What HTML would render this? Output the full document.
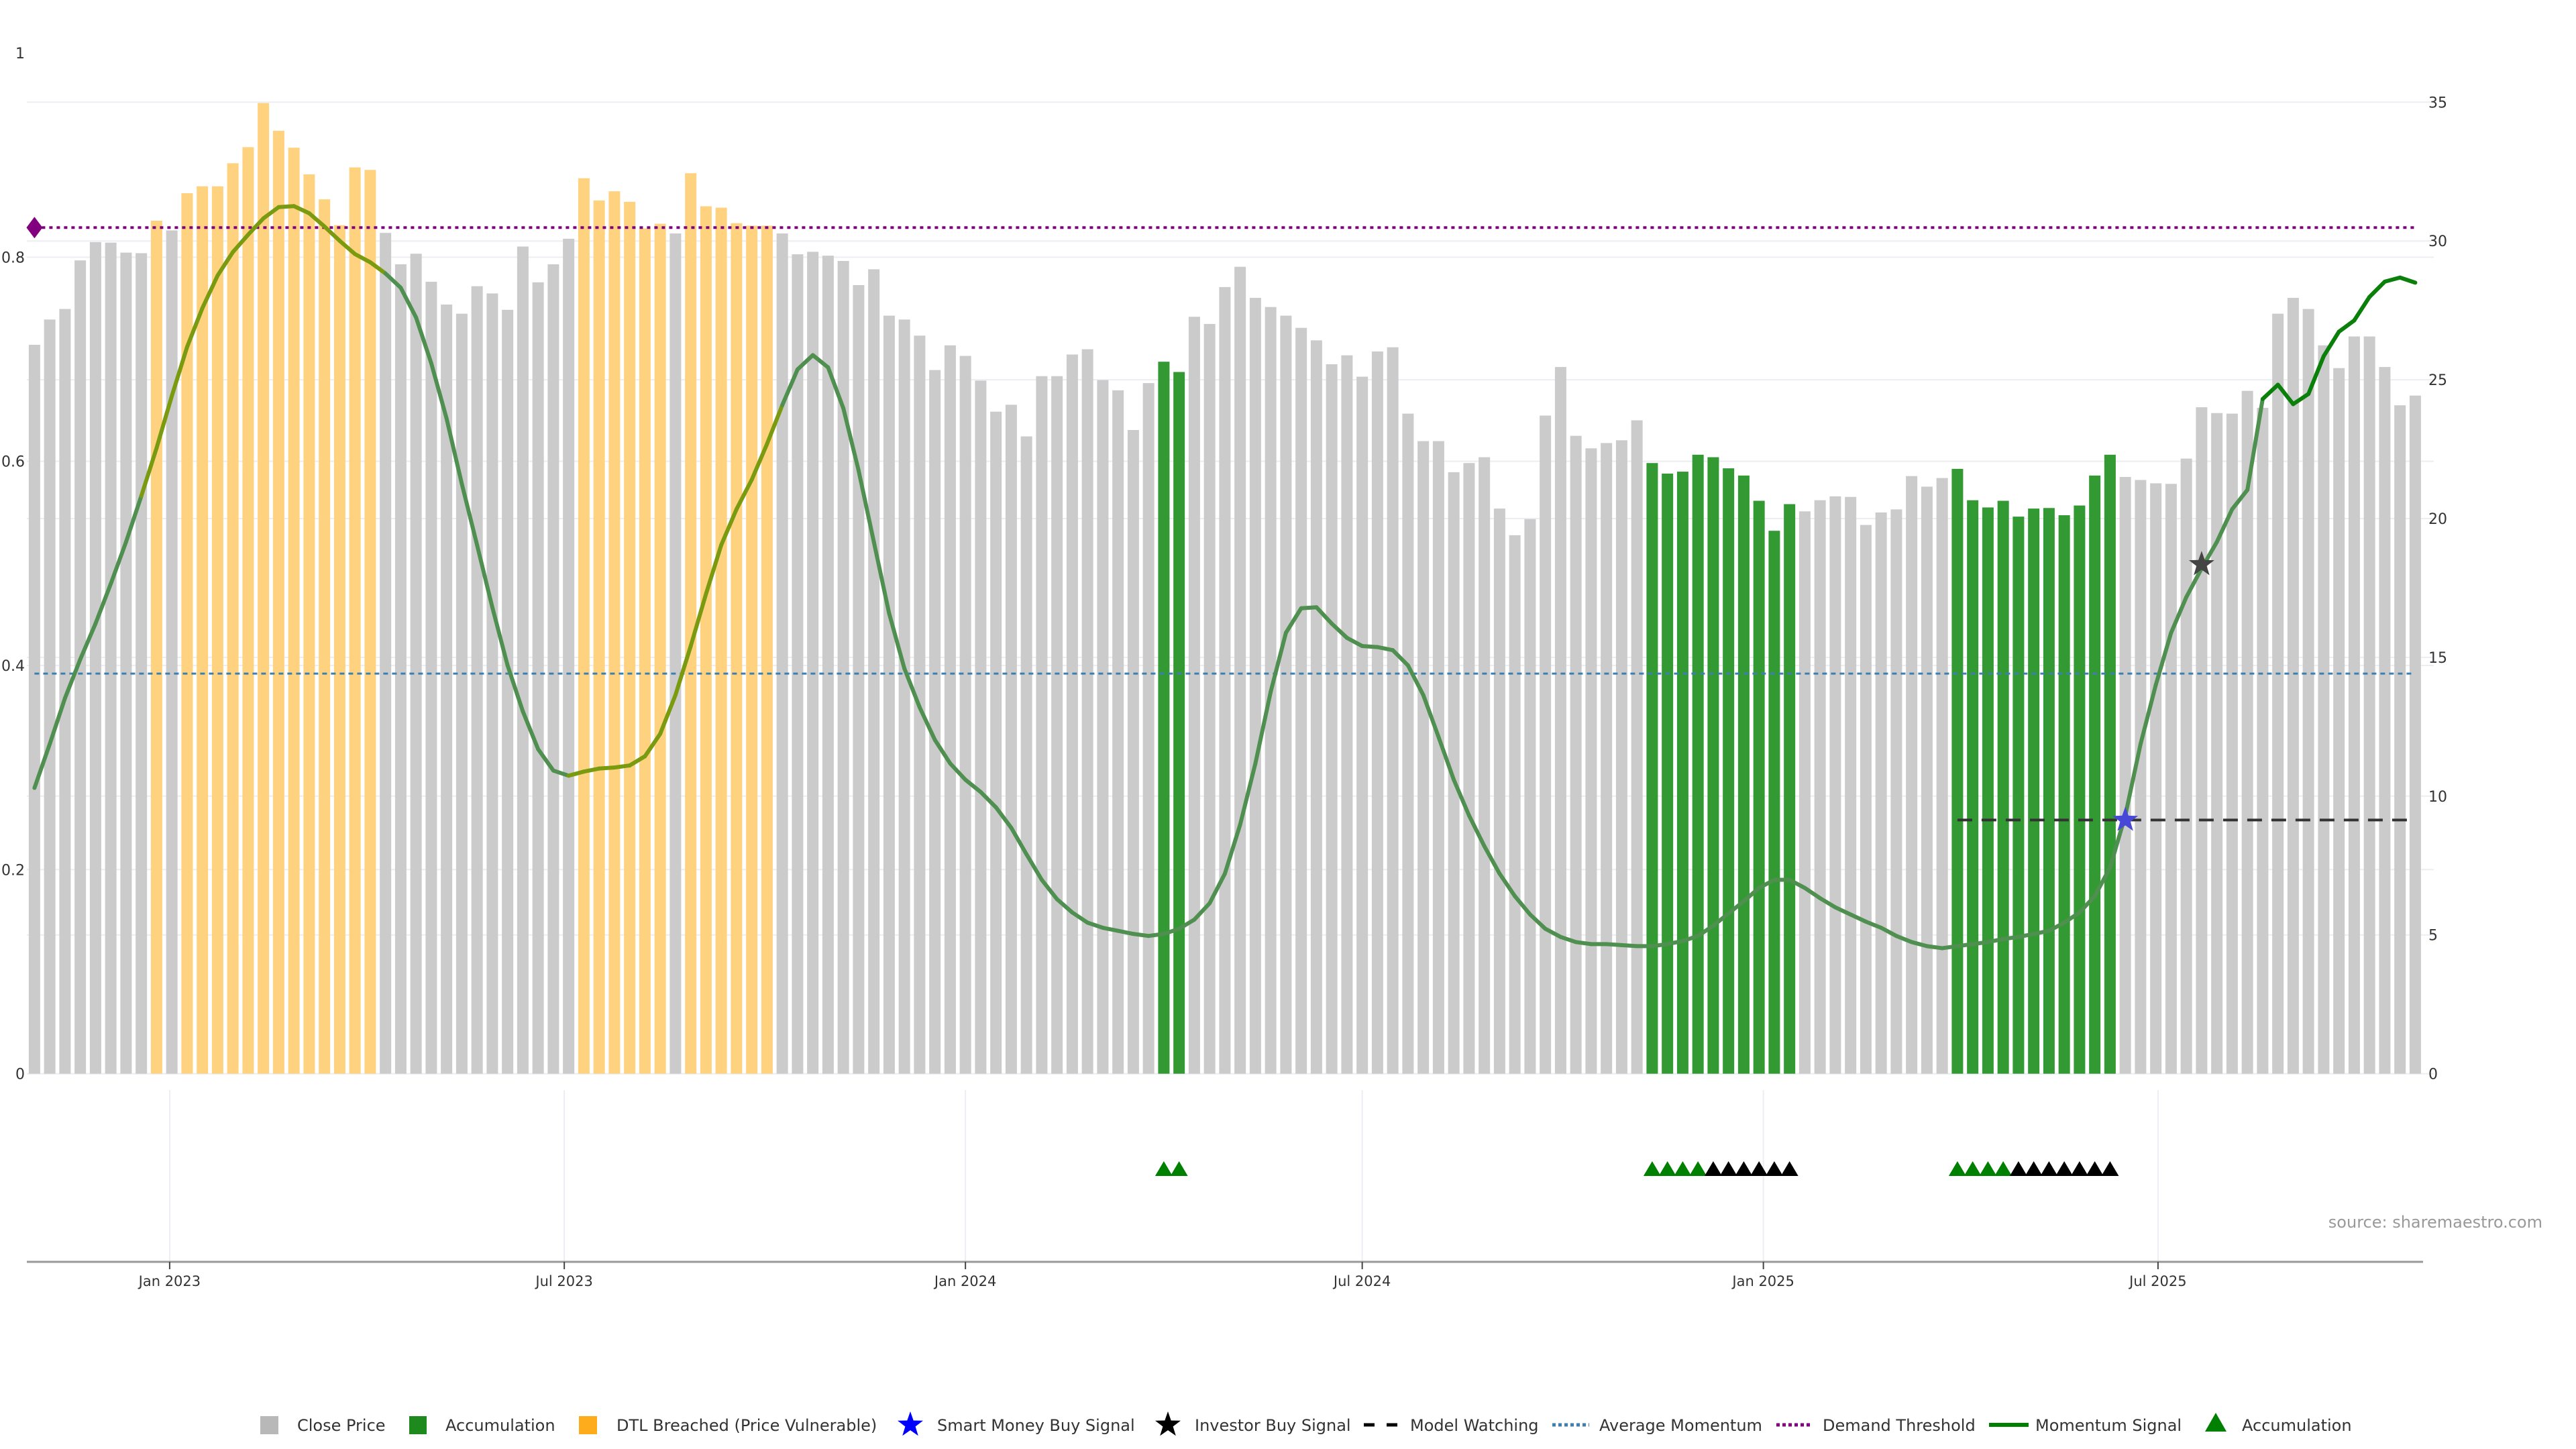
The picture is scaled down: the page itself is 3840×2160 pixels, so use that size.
<!DOCTYPE html>
<html><head><meta charset="utf-8"><style>
html,body{margin:0;padding:0;background:#fff;}
svg{display:block;font-family:"DejaVu Sans","Liberation Sans",sans-serif;}
</style></head><body>
<svg id="chart" xmlns="http://www.w3.org/2000/svg" width="3840" height="2160" viewBox="0 0 3840 2160">
<rect width="3840" height="2160" fill="#fff"/>
<g id="grid"></g>
<g id="bars"></g>
<g id="lines"></g>
<g id="marks"></g>
<g id="axes"></g>
<text x="3790" y="1830" text-anchor="end" font-size="24" fill="#999">source: sharemaestro.com</text>
<g id="legend"></g>
</svg>
<script>
const startDate = "2022-10-31";
const closePrice = [26.26,27.17,27.55,29.3,29.96,29.94,29.58,29.56,30.73,30.38,31.72,31.97,31.97,32.8,33.38,34.97,33.97,33.36,32.4,31.5,30.57,32.65,32.56,30.29,29.16,29.54,28.53,27.71,27.38,28.37,28.11,27.52,29.8,28.51,29.16,30.08,32.26,31.46,31.79,31.41,30.45,30.62,30.27,32.44,31.25,31.2,30.64,30.55,30.55,30.27,29.52,29.61,29.47,29.28,28.41,28.98,27.31,27.17,26.59,25.35,26.24,25.86,24.97,23.85,24.1,22.96,25.13,25.13,25.91,26.1,24.99,24.62,23.19,24.88,25.65,25.28,27.27,27.01,28.34,29.07,27.95,27.62,27.31,26.87,26.42,25.56,25.88,25.11,26.02,26.17,23.78,22.79,22.79,21.67,22.0,22.21,20.36,19.4,19.98,23.71,25.46,22.98,22.53,22.72,22.82,23.54,22.0,21.62,21.69,22.3,22.21,21.81,21.55,20.64,19.56,20.52,20.26,20.66,20.8,20.78,19.77,20.22,20.33,21.53,21.15,21.46,21.79,20.66,20.4,20.64,20.07,20.36,20.38,20.12,20.47,21.55,22.3,21.5,21.39,21.27,21.25,22.16,24.01,23.8,23.78,24.6,23.99,27.38,27.95,27.55,26.24,25.42,26.56,26.56,25.46,24.08,24.43];
const momentum = [0.280,0.323,0.368,0.406,0.441,0.480,0.521,0.566,0.613,0.664,0.712,0.750,0.782,0.805,0.822,0.838,0.849,0.850,0.843,0.830,0.816,0.803,0.795,0.784,0.770,0.741,0.696,0.642,0.578,0.518,0.457,0.400,0.355,0.318,0.297,0.292,0.296,0.299,0.300,0.302,0.311,0.333,0.371,0.419,0.470,0.518,0.553,0.582,0.617,0.655,0.690,0.704,0.692,0.652,0.591,0.521,0.451,0.397,0.359,0.327,0.304,0.288,0.276,0.261,0.241,0.215,0.190,0.171,0.158,0.148,0.143,0.140,0.137,0.135,0.137,0.142,0.151,0.167,0.196,0.244,0.304,0.374,0.432,0.456,0.457,0.441,0.427,0.419,0.418,0.415,0.400,0.371,0.330,0.288,0.253,0.223,0.196,0.174,0.156,0.142,0.134,0.129,0.127,0.127,0.126,0.125,0.125,0.127,0.130,0.135,0.145,0.157,0.169,0.182,0.190,0.190,0.182,0.172,0.163,0.156,0.149,0.143,0.135,0.129,0.125,0.123,0.125,0.127,0.129,0.132,0.134,0.137,0.140,0.148,0.158,0.174,0.202,0.253,0.323,0.381,0.432,0.467,0.495,0.521,0.553,0.572,0.661,0.675,0.656,0.666,0.703,0.727,0.738,0.761,0.776,0.780,0.775];
// bar state: 0 = close, 1 = accumulation, 2 = DTL breached
const barState = [0,0,0,0,0,0,0,0,2,0,2,2,2,2,2,2,2,2,2,2,2,2,2,0,0,0,0,0,0,0,0,0,0,0,0,0,2,2,2,2,2,2,0,2,2,2,2,2,2,0,0,0,0,0,0,0,0,0,0,0,0,0,0,0,0,0,0,0,0,0,0,0,0,0,1,1,0,0,0,0,0,0,0,0,0,0,0,0,0,0,0,0,0,0,0,0,0,0,0,0,0,0,0,0,0,0,1,1,1,1,1,1,1,1,1,1,0,0,0,0,0,0,0,0,0,0,1,1,1,1,1,1,1,1,1,1,1,0,0,0,0,0,0,0,0,0,0,0,0,0,0,0,0,0,0,0,0];
const triGreen = [75,76,107,108,109,110,127,128,129,130];
const triBlack = [111,112,113,114,115,116,131,132,133,134,135,136,137];
const demandThreshold = 0.829;
const avgMomentum = 0.392;
const modelWatching = 9.14;
const modelStart = 127;
const smartMoneyBar = 138;
const investorBar = 143;
const investorValue = 0.499;
const brightFrom = 147;
const leftTicks = [0,0.2,0.4,0.6,0.8,1];
const leftLabels = ["0","0.2","0.4","0.6","0.8","1"];
const rightTicks = [0,5,10,15,20,25,30,35];
const dateTicks = ["2023-01-01","2023-07-01","2024-01-01","2024-07-01","2025-01-01","2025-07-01"];
const dateLabels = ["Jan 2023","Jul 2023","Jan 2024","Jul 2024","Jan 2025","Jul 2025"];

const NS="http://www.w3.org/2000/svg";
const X0=51.4, PXDAY=3.25, YB=1600.6;
const day0=Date.parse(startDate);
const xDate=d=>X0+(Date.parse(d)-day0)/86400000*PXDAY;
const xBar=i=>X0+i*7*PXDAY;
const yR=v=>YB-v*(YB-152.3)/35;
const yL=v=>YB-v*(YB-79)/1;
function mk(tag,attrs,parent){const e=document.createElementNS(NS,tag);for(const k in attrs)e.setAttribute(k,attrs[k]);parent.appendChild(e);return e;}
const G=id=>document.getElementById(id);
const grid=G('grid'),bars=G('bars'),lines=G('lines'),marks=G('marks'),axes=G('axes'),legend=G('legend');

rightTicks.forEach(t=>{const e=mk('line',{x1:40,x2:3628,y1:yR(t),y2:yR(t),stroke:'#eceef4','stroke-width':2},grid);

});
leftTicks.slice(0,5).forEach(t=>{const e=mk('line',{x1:40,x2:3628,y1:yL(t),y2:yL(t),stroke:'#eceef4','stroke-width':2},grid);

});
dateTicks.forEach(d=>{const e=mk('line',{x1:xDate(d),x2:xDate(d),y1:1625,y2:1881,stroke:'#eceef4','stroke-width':2},grid);

});

const colors=['#cbcbcb','#339a33','#ffd280'];
closePrice.forEach((v,i)=>{const e=mk('rect',{x:xBar(i)-8.5,y:yR(v),width:17,height:YB-yR(v),fill:colors[barState[i]]},bars);

});

let e;
e=mk('line',{x1:xBar(0),x2:xBar(closePrice.length-1),y1:yL(demandThreshold),y2:yL(demandThreshold),stroke:'#800080','stroke-width':4,'stroke-dasharray':'5 6'},lines);


e=mk('line',{x1:xBar(0),x2:xBar(closePrice.length-1),y1:yL(avgMomentum),y2:yL(avgMomentum),stroke:'#3d7fae','stroke-width':3,'stroke-dasharray':'7 6'},lines);


e=mk('line',{x1:xBar(modelStart-1),x2:xBar(closePrice.length-1),y1:yR(modelWatching),y2:yR(modelWatching),stroke:'#333','stroke-width':4,'stroke-dasharray':'22 14'},lines);



for(let i=0;i<momentum.length-1;i++){
  let c='#4f8f4f';
  if(barState[i]===2||barState[i+1]===2) c='#7a9a10';
  if(i+1>=brightFrom) c='#0a800a';
  const s=mk('line',{x1:xBar(i),y1:yL(momentum[i]),x2:xBar(i+1),y2:yL(momentum[i+1]),stroke:c,'stroke-width':6,'stroke-linecap':'round'},lines);
  
  
}

{const cx=xBar(0),cy=yL(demandThreshold);
e=mk('polygon',{points:`${cx},${cy-16} ${cx+12},${cy} ${cx},${cy+16} ${cx-12},${cy}`,fill:'#800080'},marks);

}

function starPts(cx,cy,R){const r=R*0.4;let p=[];for(let k=0;k<10;k++){const a=-Math.PI/2+k*Math.PI/5;const rr=k%2?r:R;p.push((cx+rr*Math.cos(a)).toFixed(1)+','+(cy+rr*Math.sin(a)).toFixed(1));}return p.join(' ');}
e=mk('polygon',{points:starPts(xBar(smartMoneyBar-1),yR(modelWatching),20),fill:'#4848d8'},marks);


e=mk('polygon',{points:starPts(xBar(investorBar-1),yL(investorValue),20),fill:'#444'},marks);



function tri(cx,base,c,parent){return mk('polygon',{points:`${cx-13},${base} ${cx+13},${base} ${cx},${base-22}`,fill:c},parent);}
triGreen.forEach(b=>{const t=tri(xBar(b-1),1753,'#008000',marks);

});
triBlack.forEach(b=>{const t=tri(xBar(b-1),1753,'#000',marks);

});

e=mk('line',{x1:40,x2:3612,y1:1881,y2:1881,stroke:'#999','stroke-width':3},axes);


dateTicks.forEach((d,i)=>{const x=xDate(d);
const t=mk('line',{x1:x,x2:x,y1:1881,y2:1892,stroke:'#444','stroke-width':2},axes);


const l=mk('text',{x:x,y:1917,'text-anchor':'middle','font-size':21,fill:'#333'},axes);l.textContent=dateLabels[i];

});
leftTicks.forEach((t,i)=>{const l=mk('text',{x:37,y:yL(t)+8,'text-anchor':'end','font-size':22,fill:'#333'},axes);l.textContent=leftLabels[i];

});
rightTicks.forEach(t=>{const l=mk('text',{x:3620,y:yR(t)+8,'font-size':22,fill:'#333'},axes);l.textContent=String(t);

});

const LY=2133, LC=2124;
function ltext(x,s){const t=mk('text',{x:x,y:LY,'font-size':24,fill:'#333'},legend);t.textContent=s;

return t;}
e=mk('rect',{x:388,y:LC-13,width:27,height:27,fill:'#b8b8b8'},legend);


ltext(443,'Close Price');
e=mk('rect',{x:610,y:LC-13,width:26,height:27,fill:'#1e8a1e'},legend);


ltext(664,'Accumulation');
e=mk('rect',{x:863,y:LC-13,width:27,height:27,fill:'#ffac1c'},legend);


ltext(919,'DTL Breached (Price Vulnerable)');
e=mk('polygon',{points:starPts(1357,LC,20),fill:'#0000ff'},legend);


ltext(1397,'Smart Money Buy Signal');
e=mk('polygon',{points:starPts(1741,LC,20),fill:'#000'},legend);


ltext(1781,'Investor Buy Signal');
e=mk('line',{x1:2033,x2:2084,y1:LC,y2:LC,stroke:'#000','stroke-width':5,'stroke-dasharray':'16 18'},legend);


ltext(2102,'Model Watching');
e=mk('line',{x1:2314,x2:2369,y1:LC,y2:LC,stroke:'#3d7fae','stroke-width':5,'stroke-dasharray':'5 4'},legend);


ltext(2384,'Average Momentum');
e=mk('line',{x1:2648,x2:2702,y1:LC,y2:LC,stroke:'#800080','stroke-width':5,'stroke-dasharray':'5 4'},legend);


ltext(2717,'Demand Threshold');
e=mk('line',{x1:2965,x2:3024,y1:LC,y2:LC,stroke:'#008000','stroke-width':6},legend);


ltext(3034,'Momentum Signal');
e=mk('polygon',{points:`3287,${LC+10} 3319,${LC+10} 3303,${LC-18}`,fill:'#008000'},legend);


ltext(3342,'Accumulation');
</script>
</body></html>
